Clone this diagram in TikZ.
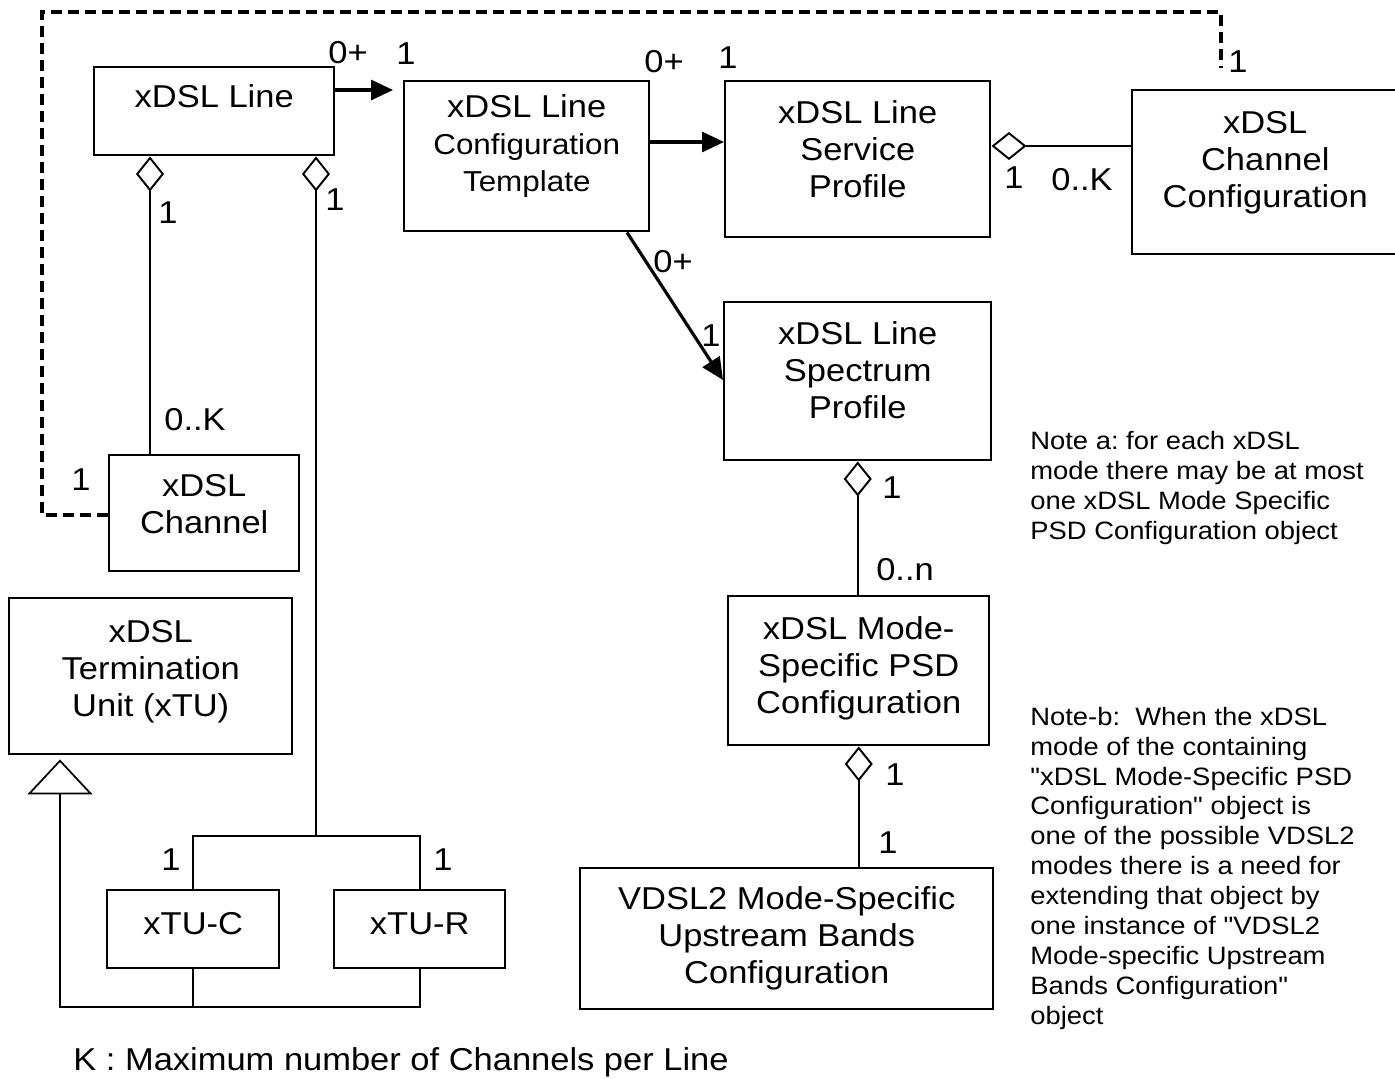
\documentclass[tikz,border=0pt]{standalone}
\usepackage{fontspec}
\setmainfont{Liberation Sans}[FakeStretch=1.09, Ligatures=TeXOff]
\usetikzlibrary{arrows.meta}
\newcommand{\boxfont}{\fontsize{18pt}{21.1pt}\selectfont}
\newcommand{\subfont}{\fontsize{16.4pt}{19.2pt}\selectfont}
\newcommand{\notefont}{\fontsize{14.3pt}{17pt}\selectfont}
\frenchspacing
\tikzset{
  classbox/.style 2 args={draw, line width=1.4pt, anchor=north west, inner sep=0pt,
    minimum width=#1*0.02cm, minimum height=#2*0.02cm},
  classtext/.style={align=center, inner sep=0pt, anchor=base, font=\boxfont},
  mult/.style={inner sep=0pt, font=\boxfont},
  notetext/.style={align=left, inner sep=0pt, anchor=base west, font=\notefont},
  link/.style={line width=0.9pt},
  agg/.style={{Diamond[open, length=0.7cm, width=0.56cm, line width=1.1pt]}-, line width=0.9pt},
  nav/.style={-{Triangle[length=0.44cm, width=0.4cm]}, line width=1.8pt},
  gen/.style={-{Triangle[open, length=0.7cm, width=1.3cm, line width=1pt]}, line width=0.9pt},
  dashlink/.style={line width=2pt, dash pattern=on 0.22cm off 0.12cm},
}
\begin{document}
\begin{tikzpicture}[x=0.02cm, y=-0.02cm]
  \useasboundingbox (0,0) rectangle (1395,1078);
  % classes
  \node[classbox={240}{88}] (line) at (93,66) {};
  \node[classbox={245}{150}] (tmpl) at (403,80) {};
  \node[classbox={265}{156}] (svc) at (724,80) {};
  \node[classbox={266}{164}] (chcfg) at (1131,89) {};
  \node[classbox={267}{158}] (spec) at (723,301) {};
  \node[classbox={190}{116}] (chan) at (108,454) {};
  \node[classbox={283}{156}] (xtu) at (8,597) {};
  \node[classbox={172}{78}] (xtuc) at (106,889) {};
  \node[classbox={171}{78}] (xtur) at (333,889) {};
  \node[classbox={261}{149}] (psd) at (727,595) {};
  \node[classbox={413}{141}] (vdsl) at (579,867) {};
  % class names (anchored at the last line)
  \node[classtext] (tline) at ([yshift=-0.84cm]line.north) {xDSL Line};
  \node[classtext] (ttmpl) at ([yshift=-2.24cm]tmpl.north) {xDSL Line\\{\subfont Configuration}\\{\subfont Template}};
  \node[classtext] (tsvc) at ([yshift=-2.36cm]svc.north) {xDSL Line\\Service\\Profile};
  \node[classtext] (tchcfg) at ([yshift=-2.38cm]chcfg.north) {xDSL\\Channel\\Configuration};
  \node[classtext] (tspec) at ([yshift=-2.36cm]spec.north) {xDSL Line\\Spectrum\\Profile};
  \node[classtext] (tchan) at ([yshift=-1.6cm]chan.north) {xDSL\\Channel};
  \node[classtext] (txtu) at ([yshift=-2.4cm]xtu.north) {xDSL\\Termination\\Unit (xTU)};
  \node[classtext] (txtuc) at ([yshift=-0.9cm]xtuc.north) {xTU-C};
  \node[classtext] (txtur) at ([yshift=-0.9cm]xtur.north) {xTU-R};
  \node[classtext] (tpsd) at ([yshift=-2.38cm]psd.north) {xDSL Mode-\\Specific PSD\\Configuration};
  \node[classtext] (tvdsl) at ([yshift=-2.34cm]vdsl.north) {VDSL2 Mode-Specific\\Upstream Bands\\Configuration};
  % associations
  \draw[nav, shorten >=0.2cm] (line.east |- 0,90) -- (tmpl.west |- 0,90);
  \draw[nav] (tmpl.east |- 0,142) -- (svc.west |- 0,142);
  \draw[nav] (tmpl.south -| 627,0) -- (spec.west |- 0,380);
  \draw[agg] (svc.east |- 0,146) -- (chcfg.west |- 0,146);
  \draw[agg] (line.south -| 150,0) -- (chan.north -| 150,0);
  \draw[agg] (line.south -| 316,0) -- (316,836) coordinate (jn);
  \draw[link] (xtuc.north) |- (jn) -| (xtur.north);
  \draw[agg] (spec.south) -- (spec.south |- psd.north);
  \draw[agg] (psd.south) -- (psd.south |- vdsl.north);
  % generalization
  \coordinate (gj) at (60,1007);
  \draw[gen, shorten >=0.08cm] (xtur.south) |- (gj) -- (gj |- xtu.south);
  \draw[link] (xtuc.south) -- (xtuc.south |- gj);
  % dashed link
  \coordinate (dend) at (1221,68);
  \draw[dashlink] (chan.west |- 0,515) -| (42,12) -| (dend);
  % multiplicities
  \node[mult] (m1) at (348,53) {0+};
  \node[mult] (m2) at (406,54) {1};
  \node[mult] (m3) at (664,62) {0+};
  \node[mult] (m4) at (728,58) {1};
  \node[mult] (m5) at (1238,62) {1};
  \node[mult] (m6) at (1014,178) {1};
  \node[mult] (m7) at (1082,180) {0..K};
  \node[mult] (m8) at (673,262) {0+};
  \node[mult] (m9) at (711,336) {1};
  \node[mult] (m10) at (168,213) {1};
  \node[mult] (m11) at (335,200) {1};
  \node[mult] (m12) at (195,420) {0..K};
  \node[mult] (m13) at (81,480) {1};
  \node[mult] (m14) at (171,860) {1};
  \node[mult] (m15) at (443,860) {1};
  \node[mult] (m16) at (892,488) {1};
  \node[mult] (m17) at (905,570) {0..n};
  \node[mult] (m18) at (895,775) {1};
  \node[mult] (m19) at (888,843) {1};
  % notes (anchored at the last line)
  \node[notetext] (notea) at (1030,539) {Note a: for each xDSL\\mode there may be at most\\one xDSL Mode Specific\\PSD Configuration object};
  \node[notetext] (noteb) at (1030,1024) {Note-b:~ When the xDSL\\mode of the containing\\"xDSL Mode-Specific PSD\\Configuration" object is\\one of the possible VDSL2\\modes there is a need for\\extending that object by\\one instance of "VDSL2\\Mode-specific Upstream\\Bands Configuration"\\object};
  \node[mult, anchor=base west] (keynote) at (73,1070) {K : Maximum number of Channels per Line};
\end{tikzpicture}
\end{document}
